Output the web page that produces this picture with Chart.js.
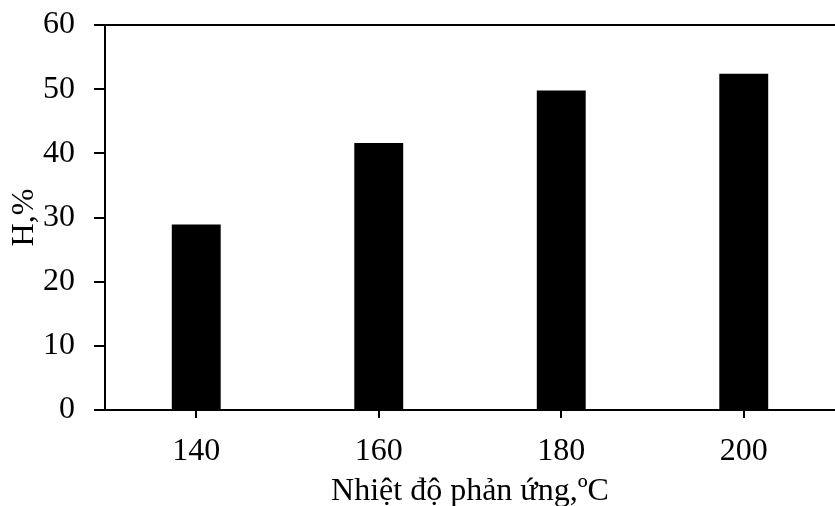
<!DOCTYPE html>
<html>
<head>
<meta charset="utf-8">
<script src="https://cdn.jsdelivr.net/npm/chart.js@4/dist/chart.umd.min.js"></script>
<style>
  html, body { margin: 0; padding: 0; background: #fff; }
  #wrap { width: 835px; height: 506px; }
</style>
</head>
<body>
<div id="wrap"><canvas id="c" width="835" height="506"></canvas></div>
<script>
const categories = ['140', '160', '180', '200'];
const yieldValues = [28.9, 41.6, 49.8, 52.4];
const yTicks = [0, 10, 20, 30, 40, 50, 60];
const xTitle = 'Nhiệt độ phản ứng,ºC';
const yTitle = 'H,%';

const FONT = "'Liberation Serif', 'Times New Roman', serif";

const topLine = {
  id: 'topLine',
  afterDraw(chart) {
    const {ctx, chartArea} = chart;
    ctx.save();
    ctx.strokeStyle = '#000';
    ctx.lineWidth = 2;
    ctx.beginPath();
    ctx.moveTo(chartArea.left, chartArea.top);
    ctx.lineTo(chartArea.right, chartArea.top);
    ctx.stroke();
    ctx.restore();
  }
};

new Chart(document.getElementById('c'), {
  type: 'bar',
  data: {
    labels: categories,
    datasets: [{
      data: yieldValues,
      backgroundColor: '#000',
      borderWidth: 0,
      categoryPercentage: 1,
      barPercentage: 0.268
    }]
  },
  options: {
    responsive: false,
    animation: false,
    devicePixelRatio: 1,
    layout: { padding: { top: 25, right: 0, bottom: 0, left: 0 } },
    plugins: { legend: { display: false }, tooltip: { enabled: false } },
    scales: {
      x: {
        grid: { display: true, drawOnChartArea: false, offset: false, color: '#000', lineWidth: 2, tickLength: 8 },
        border: { display: true, color: '#000', width: 2 },
        ticks: { color: '#000', font: { family: FONT, size: 32 }, padding: 14, maxRotation: 0 },
        title: { display: true, text: xTitle, color: '#000', font: { family: FONT, size: 32, lineHeight: 0.9 }, padding: { top: 0, bottom: 0 } },
        afterFit(scale) { scale.height = 96; scale.paddingLeft = 0; scale.paddingRight = 0; }
      },
      y: {
        min: 0, max: 60,
        afterBuildTicks(scale) { scale.ticks = yTicks.map(v => ({ value: v })); },
        grid: { display: true, drawOnChartArea: false, color: '#000', lineWidth: 2, tickLength: 11 },
        border: { display: true, color: '#000', width: 2 },
        ticks: { color: '#000', font: { family: FONT, size: 32 }, padding: 19 },
        title: { display: true, text: yTitle, color: '#000', font: { family: FONT, size: 32 }, padding: { top: 5, bottom: 0 } },
        afterFit(scale) { scale.width = 105; scale.paddingTop = 0; scale.paddingBottom = 0; }
      }
    }
  },
  plugins: [topLine]
});
</script>
</body>
</html>
